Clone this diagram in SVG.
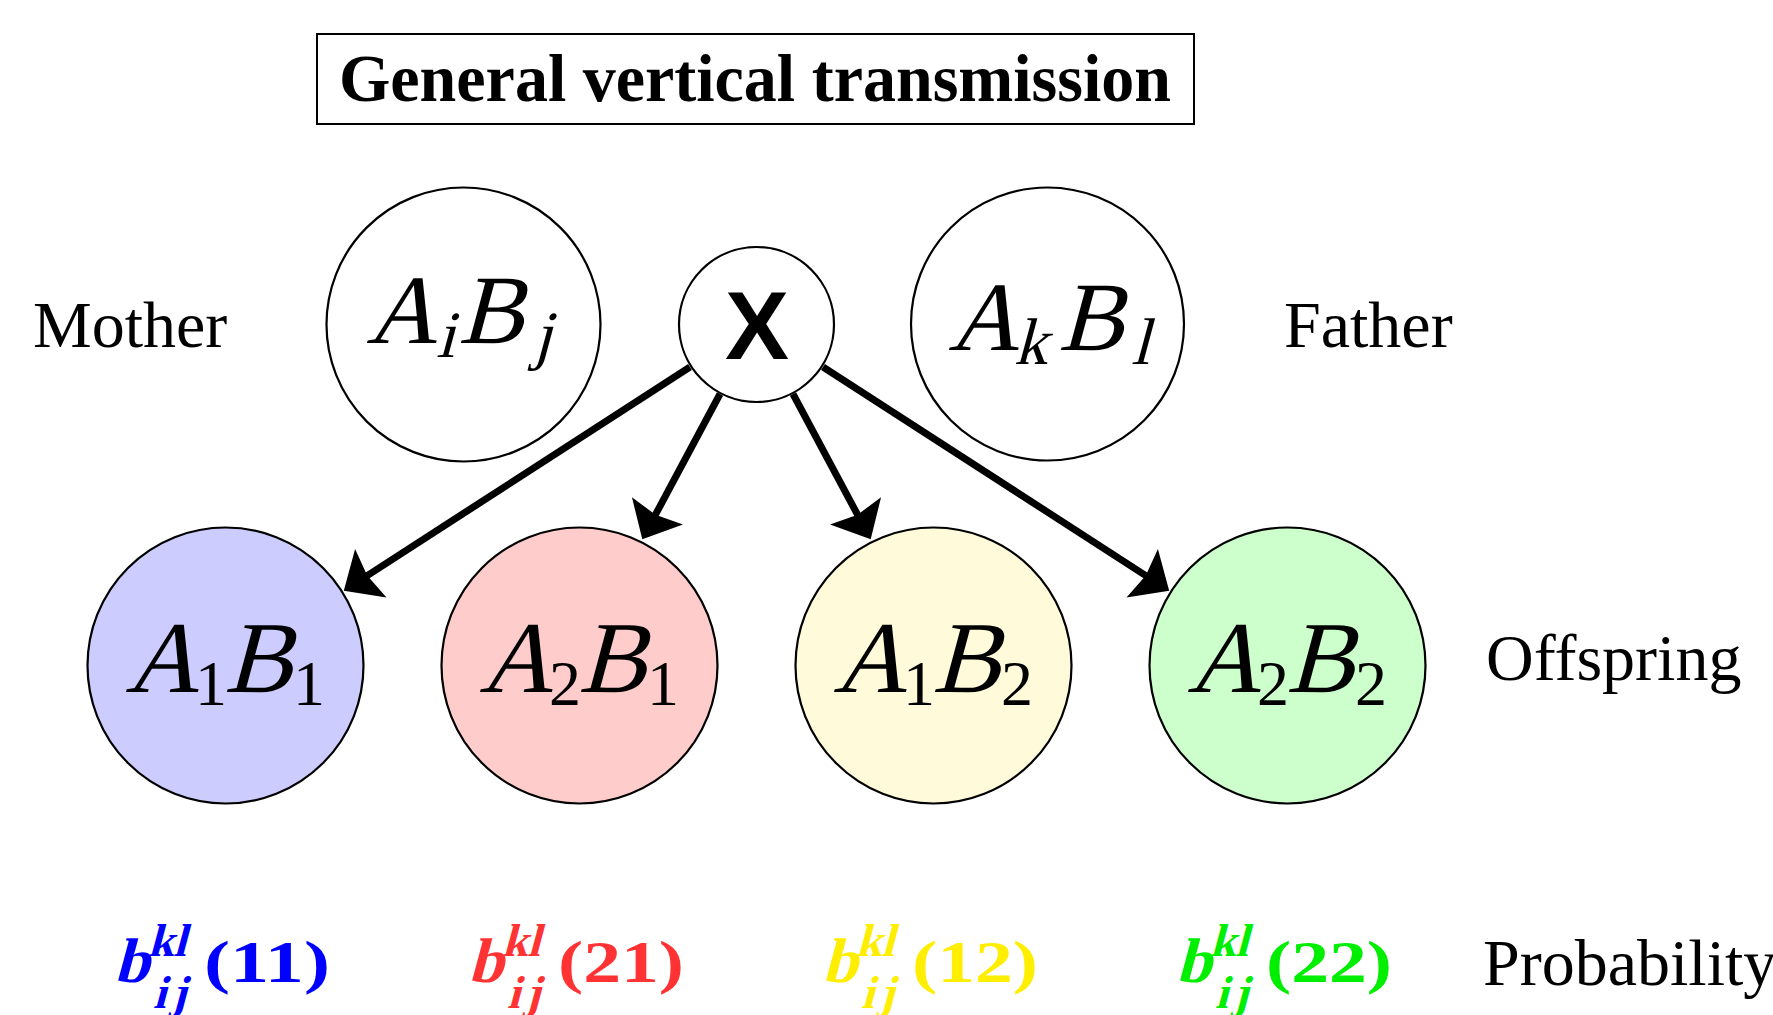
<svg xmlns="http://www.w3.org/2000/svg" width="1773" height="1015" viewBox="0 0 1773 1015">
<style>
.node{stroke:#000;stroke-width:2.2}
.lbl{font-family:"Liberation Serif","Times New Roman",serif;font-size:66px;fill:#000}
.m{font-family:"Liberation Serif","Times New Roman",serif;font-style:normal;fill:#000}
.big{font-size:102px}
.par{font-size:98px}
.sub{font-size:64px}
.isub{font-size:66px}
.conn{stroke:#000;stroke-width:7;fill:none}
.prob{font-family:"Liberation Serif","Times New Roman",serif;font-weight:bold;font-style:normal}
.pb{font-size:63px}
.ps{font-size:46px}
.pp{font-size:60px}
</style>
<defs>
<marker id="ah" markerUnits="userSpaceOnUse" markerWidth="40" markerHeight="60" viewBox="-12 -28 36 56" refX="0" refY="0" orient="auto">
<path d="M-10,-27 L20,0 L-10,27 L-6,0 z" fill="#000"/>
</marker>
</defs>
<rect width="1773" height="1015" fill="#fff"/>

<g id="title">
<rect x="317" y="34" width="877" height="90" fill="#fff" stroke="#000" stroke-width="2"/>
<text x="755" y="101" text-anchor="middle" font-family="'Liberation Serif','Times New Roman',serif" font-weight="bold" font-size="68" textLength="832" lengthAdjust="spacingAndGlyphs">General vertical transmission</text>
</g>

<g id="connectors">
<line class="conn" x1="690" y1="367" x2="361.8" y2="579.1" marker-end="url(#ah)"/>
<line class="conn" x1="720" y1="394" x2="652.4" y2="520.4" marker-end="url(#ah)"/>
<line class="conn" x1="793" y1="394" x2="860.6" y2="520.4" marker-end="url(#ah)"/>
<line class="conn" x1="823" y1="367" x2="1151.2" y2="579.1" marker-end="url(#ah)"/>
</g>

<g id="mother-label"><text class="lbl" x="33" y="347">Mother</text></g>
<g id="father-label"><text class="lbl" x="1284" y="347">Father</text></g>
<g id="offspring-label"><text class="lbl" x="1486" y="680">Offspring</text></g>
<g id="probability-label"><text class="lbl" x="1483" y="985">Probability</text></g>

<g id="mother">
<circle class="node" cx="463.5" cy="324.5" r="137" fill="#fff"/>
<text class="m par" transform="translate(366,343) skewX(-15)">A</text>
<text class="m isub" transform="translate(436,357) skewX(-15)">i</text>
<text class="m par" transform="translate(458,343) skewX(-15)">B</text>
<text class="m isub" transform="translate(533,357) skewX(-15)">j</text>
</g>

<g id="cross">
<circle class="node" cx="756.5" cy="324.5" r="77.5" fill="#fff"/>
<text x="757" y="359" text-anchor="middle" font-family="'Liberation Sans',Arial,sans-serif" font-weight="bold" font-size="96">X</text>
</g>

<g id="father">
<circle class="node" cx="1047.5" cy="324" r="136.5" fill="#fff"/>
<text class="m par" transform="translate(948,350) skewX(-15)">A</text>
<text class="m isub" transform="translate(1014,364) skewX(-15)">k</text>
<text class="m par" transform="translate(1058,350) skewX(-15)">B</text>
<text class="m isub" transform="translate(1131,364) skewX(-15)">l</text>
</g>

<g id="o11">
<circle class="node" cx="225.5" cy="665.5" r="138" fill="#ccccff"/>
<text class="m big" transform="translate(125,692) skewX(-15)">A</text>
<text class="m sub" x="195" y="705">1</text>
<text class="m big" transform="translate(224,692) skewX(-15)">B</text>
<text class="m sub" x="293" y="705">1</text>
</g>

<g id="o21">
<circle class="node" cx="579.5" cy="665.5" r="138" fill="#ffcccc"/>
<text class="m big" transform="translate(479,692) skewX(-15)">A</text>
<text class="m sub" x="549" y="705">2</text>
<text class="m big" transform="translate(578,692) skewX(-15)">B</text>
<text class="m sub" x="647" y="705">1</text>
</g>

<g id="o12">
<circle class="node" cx="933.5" cy="665.5" r="138" fill="#fffad9"/>
<text class="m big" transform="translate(833,692) skewX(-15)">A</text>
<text class="m sub" x="903" y="705">1</text>
<text class="m big" transform="translate(932,692) skewX(-15)">B</text>
<text class="m sub" x="1001" y="705">2</text>
</g>

<g id="o22">
<circle class="node" cx="1287.5" cy="665.5" r="138" fill="#ccffcc"/>
<text class="m big" transform="translate(1187,692) skewX(-15)">A</text>
<text class="m sub" x="1257" y="705">2</text>
<text class="m big" transform="translate(1286,692) skewX(-15)">B</text>
<text class="m sub" x="1355" y="705">2</text>
</g>

<g id="p11" class="prob" fill="#0000ff">
<text class="pb" transform="translate(114,982) skewX(-15)">b</text>
<text class="ps" transform="translate(148,956) skewX(-15)" textLength="38" lengthAdjust="spacing">kl</text>
<text class="ps" transform="translate(153,1008) skewX(-15)" textLength="33" lengthAdjust="spacing">ij</text>
<text class="pp" x="204" y="982" textLength="126" lengthAdjust="spacingAndGlyphs">(11)</text>
</g>
<g id="p21" class="prob" fill="#ff3333">
<text class="pb" transform="translate(468,982) skewX(-15)">b</text>
<text class="ps" transform="translate(502,956) skewX(-15)" textLength="38" lengthAdjust="spacing">kl</text>
<text class="ps" transform="translate(507,1008) skewX(-15)" textLength="33" lengthAdjust="spacing">ij</text>
<text class="pp" x="558" y="982" textLength="126" lengthAdjust="spacingAndGlyphs">(21)</text>
</g>
<g id="p12" class="prob" fill="#ffee00">
<text class="pb" transform="translate(822,982) skewX(-15)">b</text>
<text class="ps" transform="translate(856,956) skewX(-15)" textLength="38" lengthAdjust="spacing">kl</text>
<text class="ps" transform="translate(861,1008) skewX(-15)" textLength="33" lengthAdjust="spacing">ij</text>
<text class="pp" x="912" y="982" textLength="126" lengthAdjust="spacingAndGlyphs">(12)</text>
</g>
<g id="p22" class="prob" fill="#00ee00">
<text class="pb" transform="translate(1176,982) skewX(-15)">b</text>
<text class="ps" transform="translate(1210,956) skewX(-15)" textLength="38" lengthAdjust="spacing">kl</text>
<text class="ps" transform="translate(1215,1008) skewX(-15)" textLength="33" lengthAdjust="spacing">ij</text>
<text class="pp" x="1266" y="982" textLength="126" lengthAdjust="spacingAndGlyphs">(22)</text>
</g>
</svg>
